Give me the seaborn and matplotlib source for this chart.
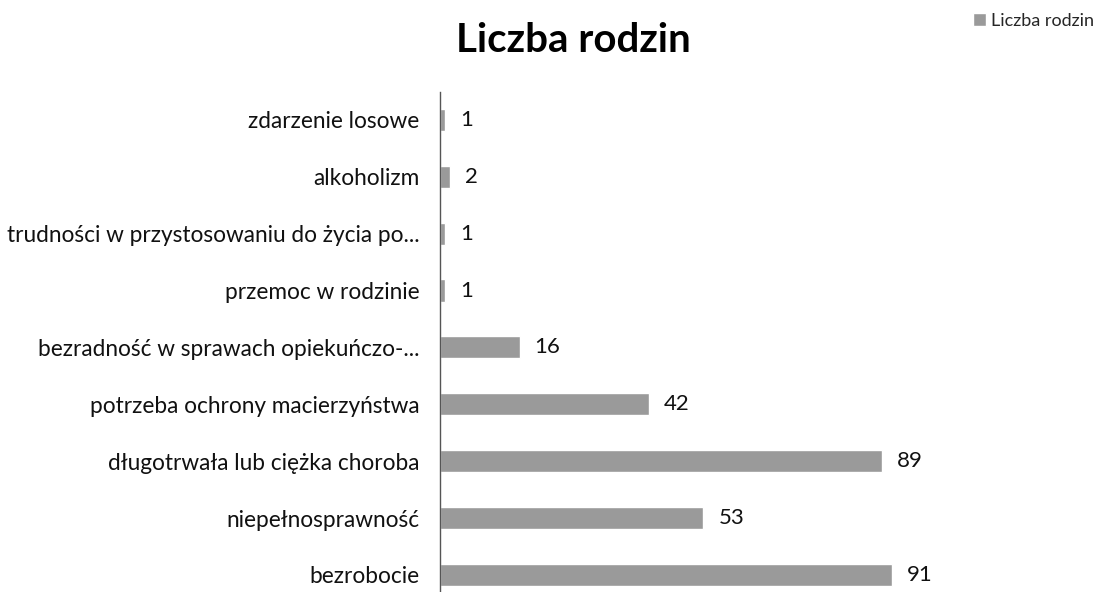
import pandas as pd
import matplotlib.pyplot as plt
import seaborn as sns

categories = [
    "zdarzenie losowe",
    "alkoholizm",
    "trudności w przystosowaniu do życia po...",
    "przemoc w rodzinie",
    "bezradność w sprawach opiekuńczo-...",
    "potrzeba ochrony macierzyństwa",
    "długotrwała lub ciężka choroba",
    "niepełnosprawność",
    "bezrobocie",
]
values = [1, 2, 1, 1, 16, 42, 89, 53, 91]
series_name = "Liczba rodzin"

df = pd.DataFrame({"kategoria": categories, "wartosc": values})

sns.set_theme(style="white")
plt.rcParams["font.family"] = ["Lato", "DejaVu Sans"]

fig = plt.figure(figsize=(11.07, 5.92), dpi=100)
ax = fig.add_axes([440 / 1107, 0.0, 497 / 1107, 500 / 592])

sns.barplot(data=df, x="wartosc", y="kategoria", color="#9a9a9a",
            width=0.39, saturation=1, ax=ax, label=series_name)

ax.set_xlim(0, 100)
ax.set_ylim(8.3, -0.49)
ax.set_xlabel("")
ax.set_ylabel("")
ax.set_xticks([])
ax.tick_params(axis="y", length=0, pad=15, labelsize=16.3, labelcolor="#111111")
for side in ["top", "right", "bottom"]:
    ax.spines[side].set_visible(False)
ax.spines["left"].set_color("#555555")
ax.spines["left"].set_linewidth(1)

for i, v in enumerate(values):
    ax.text(v + 3.0, i, str(v), va="center", ha="left", fontsize=16, color="#111111")

fig.text(573 / 1107, 1 - 40 / 592, "Liczba rodzin", ha="center", va="center",
         fontsize=29, fontweight="bold", color="#000000")

ax.legend(loc="upper right", bbox_to_anchor=(1107 / 1107, 1.0), bbox_transform=fig.transFigure,
          frameon=False, fontsize=13, handlelength=0.7, handleheight=0.7,
          handletextpad=0.3, borderaxespad=0.4, borderpad=0.3)

fig.savefig("out.png", dpi=100)
